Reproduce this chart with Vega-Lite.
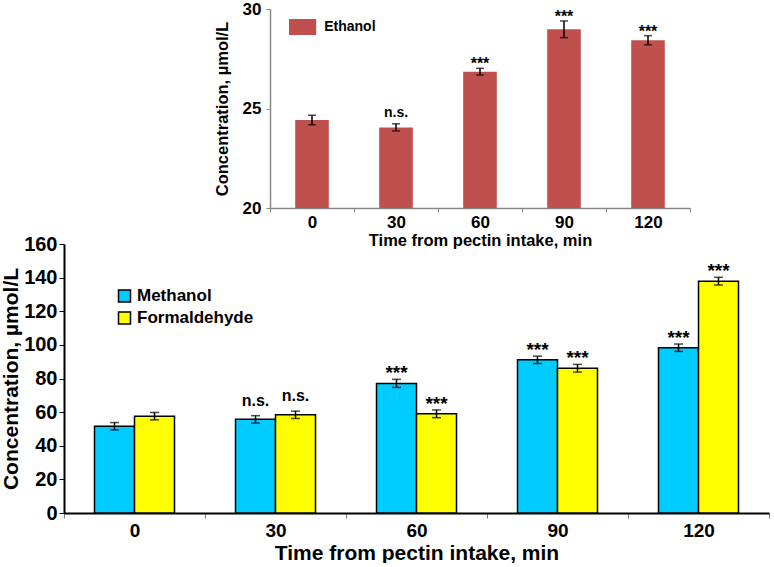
{
  "$schema": "https://vega.github.io/schema/vega-lite/v6.json",
  "padding": {"left": 0, "top": 0, "right": 0, "bottom": 0},
  "bounds": "flush",
  "spacing": 36,
  "resolve": {"scale": {"color": "independent"}, "legend": {"color": "independent"}},
  "config": {
    "font": "Liberation Sans",
    "view": {"stroke": null},
    "axis": {"grid": false, "labelFontWeight": "bold", "titleFontWeight": "bold", "labelColor": "black", "titleColor": "black", "labelFont": "Liberation Sans", "titleFont": "Liberation Sans", "labelOverlap": false, "labelBound": false},
    "legend": {"labelFont": "Liberation Sans", "labelFontWeight": "bold", "labelColor": "black"}
  },
  "vconcat": [
    {
      "width": 626,
      "height": 199,
      "data": {"values": [
        {"time": "0", "substance": "Ethanol", "value": 24.42, "lo": 24.18, "hi": 24.66, "sig": ""},
        {"time": "30", "substance": "Ethanol", "value": 24.05, "lo": 23.87, "hi": 24.23, "sig": "n.s."},
        {"time": "60", "substance": "Ethanol", "value": 26.85, "lo": 26.68, "hi": 27.02, "sig": "***"},
        {"time": "90", "substance": "Ethanol", "value": 28.98, "lo": 28.56, "hi": 29.40, "sig": "***"},
        {"time": "120", "substance": "Ethanol", "value": 28.43, "lo": 28.20, "hi": 28.66, "sig": "***"}
      ]},
      "encoding": {
        "x": {
          "field": "time", "type": "ordinal", "sort": ["0", "30", "60", "90", "120"],
          "scale": {"paddingInner": 0, "paddingOuter": 0, "range": [206, 626]},
          "axis": {"title": "Time from pectin intake, min", "labelAngle": 0, "labelFontSize": 17, "titleFontSize": 16.5, "domainColor": "#888888", "domainWidth": 1.5, "tickColor": "#888888", "tickSize": 4, "tickWidth": 1, "tickBand": "extent", "labelPadding": 2, "titlePadding": 2, "labelOverlap": false}
        }
      },
      "layer": [
        {
          "mark": {"type": "bar", "width": {"band": 0.4}},
          "encoding": {
            "y": {"field": "value", "type": "quantitative", "scale": {"domain": [20, 30]},
              "axis": {"title": "Concentration, µmol/L", "values": [20, 25, 30], "offset": -206, "labelFontSize": 17, "titleFontSize": 16.5, "domainColor": "#888888", "domainWidth": 1.5, "tickColor": "#888888", "tickSize": 4, "labelPadding": 5, "titlePadding": 12, "labelOverlap": false}},
            "y2": {"datum": 20},
            "color": {"field": "substance", "type": "nominal", "scale": {"domain": ["Ethanol"], "range": ["#C0504D"]},
              "legend": {"title": null, "orient": "none", "legendX": 230.6, "legendY": 10, "symbolType": "M-1.7,-1H1.7V1H-1.7Z", "symbolSize": 256, "symbolStrokeWidth": 0, "labelFontSize": 14, "labelOffset": 13.6, "padding": 0}}
          }
        },
        {
          "mark": {"type": "rule", "color": "black", "strokeWidth": 1.5},
          "encoding": {"y": {"field": "lo", "type": "quantitative"}, "y2": {"field": "hi"}}
        },
        {
          "mark": {"type": "tick", "color": "black", "size": 8, "thickness": 1.5},
          "encoding": {"y": {"field": "lo", "type": "quantitative"}}
        },
        {
          "mark": {"type": "tick", "color": "black", "size": 8, "thickness": 1.5},
          "encoding": {"y": {"field": "hi", "type": "quantitative"}}
        },
        {
          "transform": [{"filter": "datum.sig === 'n.s.'"}],
          "mark": {"type": "text", "fontSize": 14, "fontWeight": "bold", "baseline": "alphabetic", "dy": -7, "color": "black"},
          "encoding": {"y": {"field": "hi", "type": "quantitative"}, "text": {"field": "sig"}}
        },
        {
          "transform": [{"filter": "datum.sig === '***'"}],
          "mark": {"type": "text", "fontSize": 16, "fontWeight": "bold", "baseline": "alphabetic", "dy": 1, "color": "black"},
          "encoding": {"y": {"field": "hi", "type": "quantitative"}, "text": {"field": "sig"}}
        }
      ]
    },
    {
      "width": 705,
      "height": 269,
      "data": {"values": [
        {"time": "0", "substance": "Methanol", "value": 51.6, "lo": 49.4, "hi": 53.8, "sig": ""},
        {"time": "0", "substance": "Formaldehyde", "value": 57.6, "lo": 55.4, "hi": 59.8, "sig": ""},
        {"time": "30", "substance": "Methanol", "value": 55.7, "lo": 53.5, "hi": 57.9, "sig": "n.s."},
        {"time": "30", "substance": "Formaldehyde", "value": 58.4, "lo": 56.2, "hi": 60.6, "sig": "n.s."},
        {"time": "60", "substance": "Methanol", "value": 77.1, "lo": 74.7, "hi": 79.5, "sig": "***"},
        {"time": "60", "substance": "Formaldehyde", "value": 59.0, "lo": 56.7, "hi": 61.3, "sig": "***"},
        {"time": "90", "substance": "Methanol", "value": 91.1, "lo": 88.9, "hi": 93.3, "sig": "***"},
        {"time": "90", "substance": "Formaldehyde", "value": 86.1, "lo": 83.8, "hi": 88.4, "sig": "***"},
        {"time": "120", "substance": "Methanol", "value": 98.3, "lo": 96.1, "hi": 100.5, "sig": "***"},
        {"time": "120", "substance": "Formaldehyde", "value": 137.9, "lo": 135.6, "hi": 140.2, "sig": "***"}
      ]},
      "encoding": {
        "x": {
          "field": "time", "type": "ordinal", "sort": ["0", "30", "60", "90", "120"],
          "scale": {"paddingInner": 0, "paddingOuter": 0},
          "axis": {"title": "Time from pectin intake, min", "labelAngle": 0, "labelFontSize": 19, "titleFontSize": 21, "domainColor": "black", "domainWidth": 2, "tickColor": "#777777", "tickSize": 5, "tickWidth": 1, "tickBand": "extent", "labelPadding": 3, "titlePadding": 2, "labelOverlap": false}
        },
        "xOffset": {"field": "substance", "type": "nominal", "sort": ["Methanol", "Formaldehyde"], "scale": {"paddingInner": 0, "paddingOuter": 0.7625}}
      },
      "layer": [
        {
          "mark": {"type": "bar", "stroke": "black", "strokeWidth": 1.5},
          "encoding": {
            "y": {"field": "value", "type": "quantitative", "scale": {"domain": [0, 160]},
              "axis": {"title": "Concentration, µmol/L", "values": [0, 20, 40, 60, 80, 100, 120, 140, 160], "labelOverlap": false, "labelFontSize": 20, "titleFontSize": 21, "domainColor": "black", "domainWidth": 2, "tickColor": "black", "tickSize": 5, "labelPadding": 2, "titlePadding": 2}},
            "color": {"field": "substance", "type": "nominal", "sort": ["Methanol", "Formaldehyde"], "scale": {"domain": ["Methanol", "Formaldehyde"], "range": ["#00CCFF", "#FFFF00"]},
              "legend": {"title": null, "orient": "none", "legendX": 52, "legendY": 43.5, "symbolType": "square", "symbolSize": 144, "symbolStrokeColor": "black", "symbolStrokeWidth": 1.5, "labelFontSize": 17, "labelOffset": 4, "rowPadding": 3, "padding": 0}}
          }
        },
        {
          "mark": {"type": "rule", "color": "black", "strokeWidth": 1.5},
          "encoding": {"y": {"field": "lo", "type": "quantitative",
              "axis": {"title": "Concentration, µmol/L", "values": [0, 20, 40, 60, 80, 100, 120, 140, 160], "labelOverlap": false, "labelFontSize": 20, "titleFontSize": 21, "domainColor": "black", "domainWidth": 2, "tickColor": "black", "tickSize": 5, "labelPadding": 2, "titlePadding": 2}}, "y2": {"field": "hi"}}
        },
        {
          "mark": {"type": "tick", "color": "black", "size": 9, "thickness": 1.5},
          "encoding": {"y": {"field": "lo", "type": "quantitative",
              "axis": {"title": "Concentration, µmol/L", "values": [0, 20, 40, 60, 80, 100, 120, 140, 160], "labelOverlap": false, "labelFontSize": 20, "titleFontSize": 21, "domainColor": "black", "domainWidth": 2, "tickColor": "black", "tickSize": 5, "labelPadding": 2, "titlePadding": 2}}}
        },
        {
          "mark": {"type": "tick", "color": "black", "size": 9, "thickness": 1.5},
          "encoding": {"y": {"field": "hi", "type": "quantitative",
              "axis": {"title": "Concentration, µmol/L", "values": [0, 20, 40, 60, 80, 100, 120, 140, 160], "labelOverlap": false, "labelFontSize": 20, "titleFontSize": 21, "domainColor": "black", "domainWidth": 2, "tickColor": "black", "tickSize": 5, "labelPadding": 2, "titlePadding": 2}}}
        },
        {
          "transform": [{"filter": "datum.sig === 'n.s.'"}],
          "mark": {"type": "text", "fontSize": 16, "fontWeight": "bold", "baseline": "alphabetic", "dy": -10, "color": "black"},
          "encoding": {"y": {"field": "hi", "type": "quantitative",
              "axis": {"title": "Concentration, µmol/L", "values": [0, 20, 40, 60, 80, 100, 120, 140, 160], "labelOverlap": false, "labelFontSize": 20, "titleFontSize": 21, "domainColor": "black", "domainWidth": 2, "tickColor": "black", "tickSize": 5, "labelPadding": 2, "titlePadding": 2}}, "text": {"field": "sig"}}
        },
        {
          "transform": [{"filter": "datum.sig === '***'"}],
          "mark": {"type": "text", "fontSize": 19, "fontWeight": "bold", "baseline": "alphabetic", "dy": 0, "color": "black"},
          "encoding": {"y": {"field": "hi", "type": "quantitative",
              "axis": {"title": "Concentration, µmol/L", "values": [0, 20, 40, 60, 80, 100, 120, 140, 160], "labelOverlap": false, "labelFontSize": 20, "titleFontSize": 21, "domainColor": "black", "domainWidth": 2, "tickColor": "black", "tickSize": 5, "labelPadding": 2, "titlePadding": 2}}, "text": {"field": "sig"}}
        }
      ]
    }
  ]
}
